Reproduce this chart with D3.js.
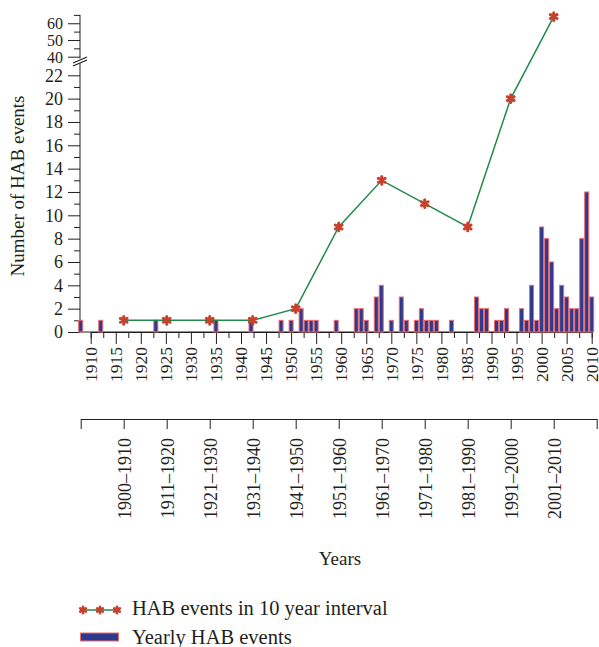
<!DOCTYPE html>
<html>
<head>
<meta charset="utf-8">
<script src="https://cdnjs.cloudflare.com/ajax/libs/d3/7.8.5/d3.min.js"></script>
<style>
body { margin: 0; background: #fff; }
text { font-family: "Liberation Serif", "DejaVu Serif", serif; fill: #231f20; }
</style>
</head>
<body>
<div id="chart"></div>
<script>
// yearly HAB events (years with no event left out)
var years  = [1908,1912,1923,1935,1942,1948,1950,1952,1953,1954,1955,1959,1963,1964,1965,1967,1968,1970,1972,1973,1975,1976,1977,1978,1979,1982,1987,1988,1989,1991,1992,1993,1996,1997,1998,1999,2000,2001,2002,2003,2004,2005,2006,2007,2008,2009,2010];
var yearly = [1,1,1,1,1,1,1,2,1,1,1,1,2,2,1,3,4,1,3,1,1,2,1,1,1,1,3,2,2,1,1,2,2,1,4,1,9,8,6,2,4,3,2,2,8,12,3];

// 10 year intervals
var periods = ["1900\u20131910","1911\u20131920","1921\u20131930","1931\u20131940","1941\u20131950","1951\u20131960","1961\u20131970","1971\u20131980","1981\u20131990","1991\u20132000","2001\u20132010"];
var periodCounts = [1,1,1,1,2,9,13,11,9,20,64];

var yTicksLow = [0,2,4,6,8,10,12,14,16,18,20,22];
var yTicksHigh = [40,50,60];
var yearTicks = d3.range(1910, 2011, 5);

var width = 599, height = 647;
var svg = d3.select("#chart").append("svg")
    .attr("width", width)
    .attr("height", height);

var axisY = 332, axisX = 80;
var x = d3.scaleLinear().domain([1910, 2010]).range([90.7, 591.7]);
var yLow = d3.scaleLinear().domain([0, 22]).range([axisY, 75.3]);
var yHigh = d3.scaleLinear().domain([40, 65]).range([56.7, 14.9]);
var yAny = function(v) { return v > 22 ? yHigh(v) : yLow(v); };
var xp = d3.scaleLinear().domain([0, 12]).range([80.7, 596.7]);

// y axis, lower part
var gL = svg.append("g").attr("transform", "translate(" + axisX + ",0)");
gL.call(d3.axisLeft(yLow).tickValues(yTicksLow).tickSize(12).tickPadding(5));
gL.append("g").call(d3.axisLeft(yLow).tickValues(d3.range(1, 22, 2)).tickSize(6).tickFormat(""));
// y axis, upper part
var gH = svg.append("g").attr("transform", "translate(" + axisX + ",0)");
gH.call(d3.axisLeft(yHigh).tickValues(yTicksHigh).tickSize(12).tickPadding(5));
gH.append("g").call(d3.axisLeft(yHigh).tickValues([45, 55, 65]).tickSize(6).tickFormat(""));
svg.selectAll(".domain").remove();
svg.append("line").attr("x1", axisX).attr("x2", axisX).attr("y1", axisY).attr("y2", 63.5).attr("stroke", "#231f20");
svg.append("line").attr("x1", axisX).attr("x2", axisX).attr("y1", 58.5).attr("y2", yHigh(65)).attr("stroke", "#231f20");
// break marks
[[0, 0], [0, -3]].forEach(function(o) {
  svg.append("line")
    .attr("x1", 73).attr("y1", 66 + o[1])
    .attr("x2", 87).attr("y2", 60 + o[1])
    .attr("stroke", "#231f20").attr("stroke-width", 1.2);
});

svg.append("text")
    .attr("transform", "rotate(-90)")
    .attr("x", -186)
    .attr("y", 24)
    .style("text-anchor", "middle")
    .style("font-size", "19px")
    .text("Number of HAB events");

// x axis with years
var gX = svg.append("g").attr("transform", "translate(0," + axisY + ")");
gX.call(d3.axisBottom(x).tickValues(yearTicks).tickSize(12).tickFormat(d3.format("d")));
gX.append("g").call(d3.axisBottom(x).tickValues(d3.range(1912.5, 2010, 5)).tickSize(6).tickFormat(""));
gX.select(".domain").remove();
gX.append("line").attr("x1", axisX).attr("x2", 593).attr("stroke", "#231f20");
gX.selectAll(".tick text")
    .attr("transform", "rotate(-90)")
    .attr("x", -15)
    .attr("y", 0)
    .attr("dy", "0.33em")
    .style("text-anchor", "end");

// second axis with decades
var pIdx = d3.range(0, 13);
var gP = svg.append("g").attr("transform", "translate(0,419)");
gP.call(d3.axisBottom(xp).tickValues(pIdx).tickSize(10).tickSizeOuter(0)
    .tickFormat(function(d) { return periods[d - 1] || ""; }));
gP.selectAll(".tick text")
    .attr("transform", "rotate(-90)")
    .attr("x", -19)
    .attr("y", 0)
    .attr("dy", "0.35em")
    .style("text-anchor", "end");

svg.selectAll(".tick line, .domain").attr("stroke", "#231f20");
svg.selectAll(".tick text").style("font-size", "18px").attr("fill", "#231f20")
    .style("font-family", "'Liberation Serif', serif");
gX.selectAll(".tick text").style("font-size", "17.5px");
gH.selectAll(".tick text").style("font-size", "16px").attr("dy", "0.34em");

svg.append("text")
    .attr("x", 340)
    .attr("y", 565)
    .style("text-anchor", "middle")
    .style("font-size", "19px")
    .text("Years");

// yearly bars
var barW = 4;
svg.selectAll(".bar")
    .data(years)
    .enter().append("rect")
    .attr("class", "bar")
    .attr("x", function(d) { return x(d) - barW / 2; })
    .attr("width", barW)
    .attr("y", function(d, i) { return yLow(yearly[i]); })
    .attr("height", function(d, i) { return axisY - yLow(yearly[i]); })
    .attr("fill", "#2b3a8e")
    .attr("stroke", "#ec6a6e")
    .attr("stroke-width", 1);

// decade line with stars
var star = d3.symbol().type(d3.symbolAsterisk).size(42);
var line = d3.line()
    .x(function(d, i) { return xp(i + 1); })
    .y(function(d) { return yAny(d); });
svg.append("path")
    .datum(periodCounts)
    .attr("d", line)
    .attr("fill", "none")
    .attr("stroke", "#23894b")
    .attr("stroke-width", 1.5);
svg.selectAll(".star")
    .data(periodCounts)
    .enter().append("path")
    .attr("class", "star")
    .attr("transform", function(d, i) { return "translate(" + xp(i + 1) + "," + yAny(d) + ")"; })
    .attr("d", star)
    .attr("stroke", "#c9402c")
    .attr("stroke-width", 3)
    .attr("stroke-linecap", "round")
    .attr("fill", "#c9402c");

// legend
var lg = svg.append("g");
lg.append("line").attr("x1", 80).attr("x2", 120).attr("y1", 610).attr("y2", 610)
    .attr("stroke", "#23894b").attr("stroke-width", 1.5);
[83, 100, 117].forEach(function(cx) {
  lg.append("path")
    .attr("transform", "translate(" + cx + ",610)")
    .attr("d", d3.symbol().type(d3.symbolAsterisk).size(30))
    .attr("stroke", "#c9402c").attr("stroke-width", 2.6).attr("stroke-linecap", "round");
});
lg.append("text").attr("x", 132).attr("y", 615).style("font-size", "20.5px")
    .text("HAB events in 10 year interval");
lg.append("rect").attr("x", 80.5).attr("y", 633).attr("width", 38).attr("height", 8)
    .attr("fill", "#2b3a8e").attr("stroke", "#ec6a6e").attr("stroke-width", 1);
lg.append("text").attr("x", 132).attr("y", 644).style("font-size", "20.5px")
    .text("Yearly HAB events");
</script>
</body>
</html>
